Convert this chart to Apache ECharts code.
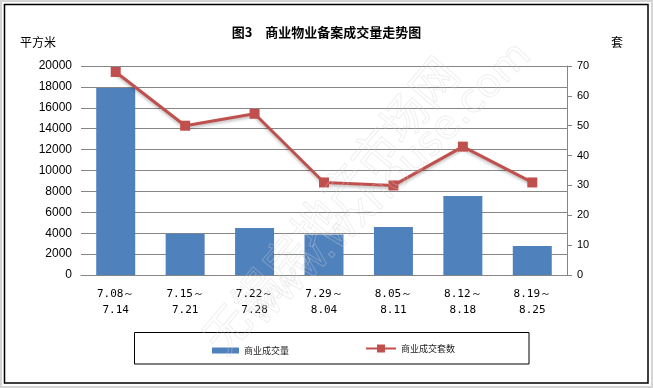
<!DOCTYPE html>
<html>
<head>
<meta charset="utf-8">
<script src="https://cdn.jsdelivr.net/npm/echarts@6/dist/echarts.min.js"></script>
<style>
html,body{margin:0;padding:0;background:#fff;}
#c{width:653px;height:388px;}
</style>
</head>
<body>
<div id="c"></div>
<script>
var categories = ['7.08～\n7.14', '7.15～\n7.21', '7.22～\n7.28', '7.29～\n8.04', '8.05～\n8.11', '8.12～\n8.18', '8.19～\n8.25'];
var areaValues = [17900, 3950, 4500, 3870, 4600, 7550, 2780];
var unitValues = [68, 50, 54, 31, 30, 43, 31];
var leftTicks = {min: 0, max: 20000, interval: 2000};
var rightTicks = {min: 0, max: 70, interval: 10};
var seriesNames = ['商业成交量', '商业成交套数'];
var titleText = '图3　商业物业备案成交量走势图';

var chart = echarts.init(document.getElementById('c'), null, {renderer: 'canvas'});
var gridColor = '#868686';
chart.setOption({
  animation: false,
  backgroundColor: '#fff',
  title: {
    text: titleText, left: 'center', top: 21,
    textStyle: {fontSize: 13, fontWeight: 'bold', color: '#000', fontFamily: 'Noto Sans CJK SC'}
  },
  grid: {left: 81, right: 86, top: 66, bottom: 113},
  legend: [
    {data: [{name: seriesNames[0], icon: 'rect'}], left: 207, top: 341, itemWidth: 27, itemHeight: 6, itemGap: 4,
     textStyle: {fontSize: 9, color: '#222', fontFamily: 'Noto Sans CJK SC'}},
    {data: [{name: seriesNames[1]}], left: 360, top: 339, itemWidth: 30, itemHeight: 10, itemGap: 2,
     textStyle: {fontSize: 9, color: '#222', fontFamily: 'Noto Sans CJK SC'}}
  ],
  xAxis: {
    type: 'category', data: categories,
    axisLine: {show: true, lineStyle: {color: gridColor, width: 1}},
    axisTick: {show: false},
    axisLabel: {color: '#000', fontSize: 11, fontFamily: 'DejaVu Sans Mono', lineHeight: 16, margin: 11, interval: 0}
  },
  yAxis: [
    {type: 'value', min: leftTicks.min, max: leftTicks.max, interval: leftTicks.interval,
     axisLine: {show: false}, axisTick: {show: false},
     splitLine: {show: true, lineStyle: {color: gridColor, width: 1}},
     axisLabel: {color: '#000', fontSize: 12, fontFamily: 'Liberation Sans', margin: 9,
                 formatter: function (v) { return String(v); }}},
    {type: 'value', min: rightTicks.min, max: rightTicks.max, interval: rightTicks.interval, position: 'right',
     axisLine: {show: true, lineStyle: {color: gridColor, width: 1}},
     axisTick: {show: true, length: 5, lineStyle: {color: gridColor}},
     splitLine: {show: false},
     axisLabel: {color: '#000', fontSize: 11, fontFamily: 'Liberation Sans', margin: 10,
                 formatter: function (v) { return String(v); }}}
  ],
  series: [
    {name: seriesNames[0], type: 'bar', yAxisIndex: 0, data: areaValues, barWidth: 39,
     itemStyle: {color: '#4F81BD'}, z: 2},
    {name: seriesNames[1], type: 'line', yAxisIndex: 1, data: unitValues,
     symbol: 'rect', symbolSize: 10,
     lineStyle: {color: '#C0504D', width: 3, shadowColor: 'rgba(0,0,0,0.25)', shadowBlur: 3, shadowOffsetY: 2},
     itemStyle: {color: '#C0504D'}, z: 3}
  ],
  graphic: [
    {type: 'rect', shape: {x: 1, y: 1, width: 651, height: 386}, style: {fill: 'none', stroke: '#d4d4d4', lineWidth: 2}, silent: true},
    {type: 'rect', shape: {x: 4.5, y: 4.5, width: 643.5, height: 378.5}, style: {fill: 'none', stroke: '#000', lineWidth: 1.5}, silent: true},
    {type: 'rect', shape: {x: 134.5, y: 332.5, width: 394.5, height: 31.5}, style: {fill: 'none', stroke: '#000', lineWidth: 1}, silent: true},
    {type: 'text', left: 20, top: 36, style: {text: '平方米', fontSize: 12, fill: '#000', fontFamily: 'Noto Sans CJK SC'}},
    {type: 'text', left: 611, top: 36, style: {text: '套', fontSize: 12, fill: '#000', fontFamily: 'Noto Sans CJK SC'}},
    {type: 'text', x: 330, y: 205, rotation: Math.PI * 50 / 180, z: 100, silent: true,
     style: {text: '无锡房地产市场网', fontSize: 46, fill: 'none', stroke: 'rgba(210,210,210,0.35)', lineWidth: 1,
             fontFamily: 'Noto Sans CJK SC', align: 'center', verticalAlign: 'middle'}},
    {type: 'text', x: 390, y: 185, rotation: Math.PI * 45 / 180, z: 100, silent: true,
     style: {text: 'www.wxhouse.com', fontSize: 40, fill: 'none', stroke: 'rgba(210,210,210,0.35)', lineWidth: 1,
             fontFamily: 'DejaVu Sans', align: 'center', verticalAlign: 'middle'}}
  ]
});
</script>
</body>
</html>
